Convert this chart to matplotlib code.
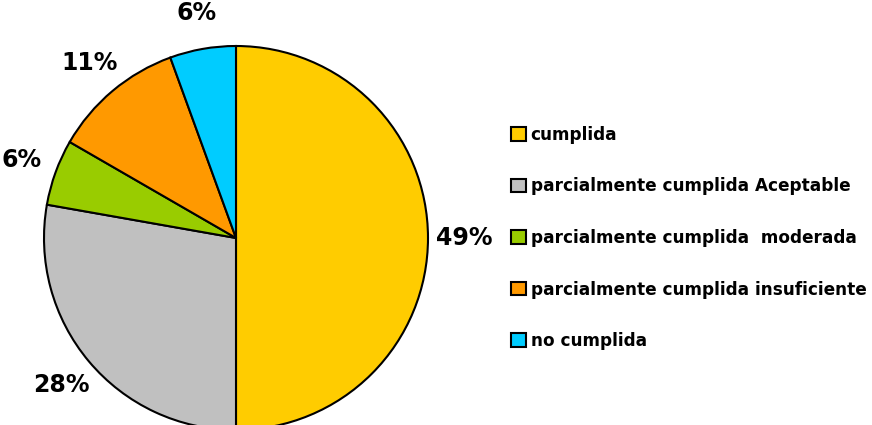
import matplotlib.pyplot as plt

# Slice counts and the labels shown on the chart
categories = [
    "cumplida",
    "parcialmente cumplida Aceptable",
    "parcialmente cumplida  moderada",
    "parcialmente cumplida insuficiente",
    "no cumplida",
]
counts = [18, 10, 2, 4, 2]
pct_labels = ["49%", "28%", "6%", "11%", "6%"]
colors = ["#FFCC00", "#C0C0C0", "#99CC00", "#FF9900", "#00CCFF"]


def draw_chart():
    fig = plt.figure(figsize=(8.72, 4.25), dpi=100)
    ax = fig.add_axes([44 / 872, -5 / 425, 384 / 872, 384 / 425])

    labels_iter = iter(pct_labels)
    wedges, texts, autotexts = ax.pie(
        counts,
        colors=colors,
        startangle=90,
        counterclock=False,
        autopct=lambda p: next(labels_iter),
        pctdistance=1.19,
        wedgeprops={"edgecolor": "black", "linewidth": 1.5},
        textprops={"fontsize": 17, "fontweight": "bold", "family": "DejaVu Sans"},
    )
    ax.set_xlim(-1, 1)
    ax.set_ylim(-1, 1)
    ax.set_aspect("equal")
    ax.axis("off")

    fig.legend(
        wedges,
        categories,
        loc="center left",
        bbox_to_anchor=(496 / 872, 187 / 425),
        frameon=False,
        prop={"family": "DejaVu Sans", "weight": "bold", "size": 12.2},
        handlelength=0.85,
        handleheight=0.85,
        handletextpad=0.3,
        labelspacing=1.98,
    )

    fig.savefig("out.png", dpi=100)


if __name__ == "__main__":
    draw_chart()
